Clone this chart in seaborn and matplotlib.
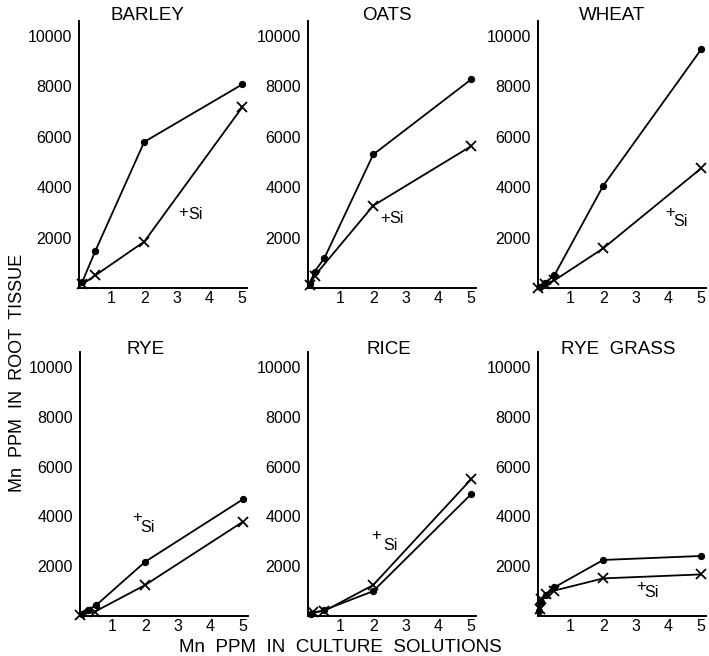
import matplotlib
matplotlib.use("Agg")
import matplotlib.pyplot as plt
import seaborn as sns
import pandas as pd

sns.set_style("white")
plt.rcParams['font.family'] = ['Liberation Sans', 'DejaVu Sans']

# ---- data (Mn ppm in culture solution vs Mn ppm in root tissue) ----
titles = ["BARLEY", "OATS", "WHEAT", "RYE", "RICE", "RYE  GRASS"]

barley_dot_x = [0.1, 0.5, 2, 5]
barley_dot_y = [240, 1470, 5800, 8080]
barley_x_x = [0.1, 0.5, 2, 5]
barley_x_y = [150, 500, 1840, 7170]

oats_dot_x = [0.05, 0.2, 0.5, 2, 5]
oats_dot_y = [150, 650, 1180, 5300, 8280]
oats_x_x = [0.05, 0.2, 2, 5]
oats_x_y = [100, 480, 3270, 5630]

wheat_dot_x = [0.05, 0.2, 0.5, 2, 5]
wheat_dot_y = [50, 200, 500, 4060, 9470]
wheat_x_x = [0.0, 0.2, 0.5, 2, 5]
wheat_x_y = [0, 150, 300, 1575, 4750]

rye_dot_x = [0.05, 0.25, 0.5, 2, 5]
rye_dot_y = [100, 240, 440, 2180, 4690]
rye_x_x = [0.0, 0.45, 2, 5]
rye_x_y = [50, 170, 1245, 3790]

rice_dot_x = [0.1, 0.5, 2, 5]
rice_dot_y = [100, 240, 1000, 4890]
rice_x_x = [0.15, 0.5, 2, 5]
rice_x_y = [150, 200, 1245, 5490]

ryegrass_dot_x = [0.02, 0.1, 0.25, 0.5, 2, 5]
ryegrass_dot_y = [200, 550, 850, 1150, 2250, 2410]
ryegrass_x_x = [0.05, 0.1, 0.25, 0.5, 2, 5]
ryegrass_x_y = [300, 700, 900, 1020, 1510, 1670]

# "+Si" label positions (data coords): plus (x, y), Si (x, y)
si_labels = [
    ((3.05, 3000), (3.35, 2900)),
    ((2.2, 2750), (2.5, 2750)),
    ((3.9, 3000), (4.15, 2650)),
    ((1.6, 3950), (1.85, 3550)),
    ((1.95, 3250), (2.3, 2850)),
    ((3.0, 1200), (3.25, 950)),
]

x_ticks = [1, 2, 3, 4, 5]
y_ticks = [2000, 4000, 6000, 8000, 10000]

series = [
    (barley_dot_x, barley_dot_y, barley_x_x, barley_x_y),
    (oats_dot_x, oats_dot_y, oats_x_x, oats_x_y),
    (wheat_dot_x, wheat_dot_y, wheat_x_x, wheat_x_y),
    (rye_dot_x, rye_dot_y, rye_x_x, rye_x_y),
    (rice_dot_x, rice_dot_y, rice_x_x, rice_x_y),
    (ryegrass_dot_x, ryegrass_dot_y, ryegrass_x_x, ryegrass_x_y),
]

W, H = 709, 656
fig = plt.figure(figsize=(W / 100, H / 100), dpi=100)

# axes pixel boxes: (left, top, width, height)
lefts = [79, 308, 538, 80, 308, 538]
tops = [21, 21, 21, 352, 352, 352]
heights = [267, 267, 267, 264, 264, 264]
width = 168
title_x = [0.41, 0.47, 0.44, 0.39, 0.48, 0.48]
title_y = [1.022, 1.022, 1.022, 1.008, 1.008, 1.008]

for i in range(6):
    l, t, h = lefts[i], tops[i], heights[i]
    ax = fig.add_axes([l / W, 1 - (t + h) / H, width / W, h / H])
    dx, dy, cx, cy = series[i]
    d1 = pd.DataFrame({"x": dx, "y": dy})
    d2 = pd.DataFrame({"x": cx, "y": cy})
    sns.lineplot(data=d1, x="x", y="y", ax=ax, color="black", lw=1.3,
                 marker="o", markersize=4.5, markeredgecolor="black",
                 estimator=None, clip_on=False)
    sns.lineplot(data=d2, x="x", y="y", ax=ax, color="black", lw=1.3,
                 marker="x", markersize=7, markeredgewidth=1.3,
                 markeredgecolor="black", estimator=None, clip_on=False)
    ax.set_xlim(0, 5.15)
    ax.set_ylim(0, 10600)
    ax.set_xticks(x_ticks)
    ax.set_xticklabels([str(v) for v in x_ticks])
    ax.set_yticks(y_ticks)
    ax.set_yticklabels([str(v) for v in y_ticks])
    ax.tick_params(axis="both", length=0, labelsize=11.5, colors="black")
    ax.tick_params(axis="y", pad=5)
    ax.tick_params(axis="x", pad=2.5)
    ax.set_xlabel("")
    ax.set_ylabel("")
    for s in ["top", "right"]:
        ax.spines[s].set_visible(False)
    for s in ["left", "bottom"]:
        ax.spines[s].set_color("black")
        ax.spines[s].set_linewidth(1.4)
    ax.text(title_x[i], title_y[i], titles[i], transform=ax.transAxes,
            ha="center", va="center", fontsize=13.5, color="black")
    (px, py), (sx, sy) = si_labels[i]
    ax.text(px, py, "+", ha="left", va="center", fontsize=12, color="black")
    ax.text(sx, sy, "Si", ha="left", va="center", fontsize=11.5, color="black")

fig.text(18 / W, 1 - 373 / H, "Mn  PPM  IN  ROOT  TISSUE", rotation=90,
         ha="center", va="center", fontsize=13, color="black")
fig.text(340 / W, 1 - 647 / H, "Mn  PPM  IN  CULTURE  SOLUTIONS",
         ha="center", va="center", fontsize=13.5, color="black")

fig.savefig("out.png", dpi=100, facecolor="white")
